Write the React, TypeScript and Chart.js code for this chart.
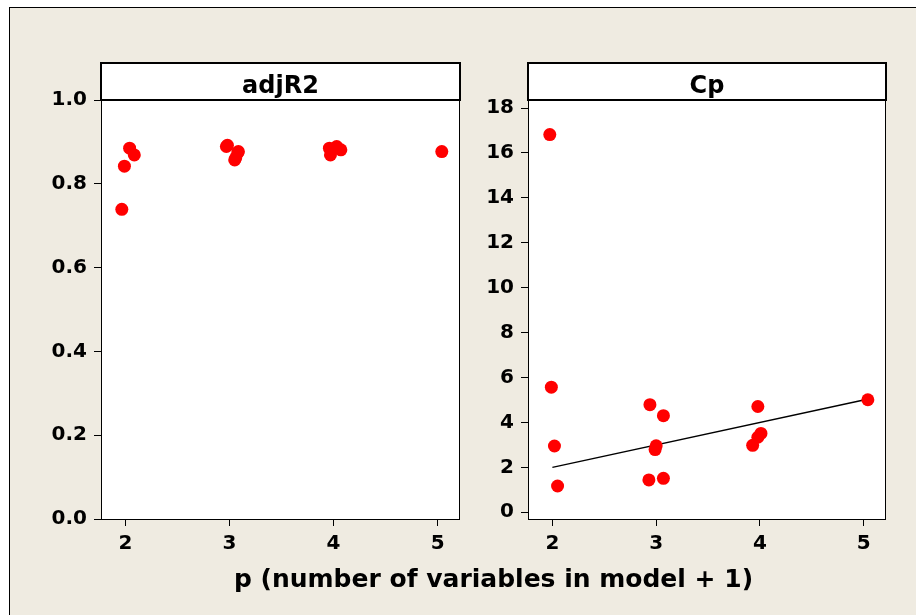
import React, { useEffect, useRef } from "react";
import { Chart, registerables } from "chart.js";

Chart.register(...registerables);

// ---- data ----
const xTicks = [2, 3, 4, 5];
const adjR2Ticks = [0, 0.2, 0.4, 0.6, 0.8, 1.0];
const cpTicks = [0, 2, 4, 6, 8, 10, 12, 14, 16, 18];

const adjR2X = [1.965, 1.99, 2.04, 2.085, 2.98, 2.97, 3.085, 3.05, 3.06, 3.08, 3.96, 3.97, 4.03, 4.07, 5.04];
const adjR2Y = [0.739, 0.842, 0.885, 0.869, 0.892, 0.889, 0.877, 0.857, 0.862, 0.875, 0.885, 0.869, 0.889, 0.881, 0.877];

const cpX = [1.975, 1.99, 2.02, 2.05, 2.94, 3.07, 3.0, 2.99, 2.93, 3.07, 3.98, 4.01, 3.98, 3.93, 5.04];
const cpY = [16.82, 5.57, 2.95, 1.17, 4.79, 4.3, 2.96, 2.79, 1.44, 1.51, 4.71, 3.51, 3.34, 2.98, 5.01];

const refLineX = [2, 5];
const refLineY = [2, 5];

const panelTitles = ["adjR2", "Cp"];
const xAxisTitle = "p (number of variables in model + 1)";

const FONT = "'DejaVu Sans', Verdana, sans-serif";

function panelPlugin(title: string) {
  return {
    id: "panelBox",
    beforeDraw(chart: any) {
      const { ctx, chartArea } = chart;
      const { left, top, right, bottom } = chartArea;
      ctx.save();
      ctx.fillStyle = "#ffffff";
      ctx.fillRect(left, top, right - left, bottom - top);
      ctx.fillRect(left, 62, right - left, top - 62);
      ctx.restore();
    },
    afterDraw(chart: any) {
      const { ctx, chartArea } = chart;
      const { left, top, right, bottom } = chartArea;
      ctx.save();
      ctx.strokeStyle = "#000000";
      ctx.lineWidth = 1;
      ctx.strokeRect(left + 0.5, top + 0.5, right - left - 1, bottom - top);
      ctx.lineWidth = 2;
      ctx.strokeRect(left, 63, right - left, top - 63);
      ctx.fillStyle = "#000000";
      ctx.font = `bold 24px ${FONT}`;
      ctx.textAlign = "center";
      ctx.textBaseline = "alphabetic";
      ctx.fillText(title, (left + right) / 2, 93);
      ctx.restore();
    },
  };
}

function makeConfig(
  title: string,
  xs: number[],
  ys: number[],
  yTicks: number[],
  yMin: number,
  yMax: number,
  yWidth: number,
  rightPad: number,
  decimals: number,
  withLine: boolean
) {
  const tickFont = { family: FONT, weight: "bold" as const, size: 20 };
  const datasets: any[] = [
    {
      type: "scatter",
      data: xs.map((x, i) => ({ x, y: ys[i] })),
      backgroundColor: "#ff0000",
      borderWidth: 0,
      pointRadius: 6.5,
      pointHoverRadius: 6.5,
    },
  ];
  if (withLine) {
    datasets.push({
      type: "line",
      data: refLineX.map((x, i) => ({ x, y: refLineY[i] })),
      borderColor: "#000000",
      borderWidth: 1.3,
      pointRadius: 0,
      fill: false,
    });
  }
  return {
    type: "scatter" as const,
    data: { datasets },
    plugins: [panelPlugin(title)],
    options: {
      animation: false,
      responsive: false,
      events: [],
      layout: { padding: { top: 100, right: rightPad, left: 0, bottom: 0 } },
      plugins: { legend: { display: false }, tooltip: { enabled: false }, title: { display: false } },
      scales: {
        x: {
          type: "linear",
          min: 1.765,
          max: 5.215,
          afterBuildTicks: (s: any) => {
            s.ticks = xTicks.map((v) => ({ value: v }));
          },
          afterFit: (s: any) => {
            s.height = 51;
          },
          grid: { display: true, drawOnChartArea: false, drawTicks: true, tickLength: 7, color: "#000000", lineWidth: 1 },
          border: { display: false },
          ticks: { color: "#000000", font: tickFont, padding: 6, maxRotation: 0, callback: (v: any) => String(v) },
        },
        y: {
          type: "linear",
          min: yMin,
          max: yMax,
          afterBuildTicks: (s: any) => {
            s.ticks = yTicks.map((v) => ({ value: v }));
          },
          afterFit: (s: any) => {
            s.width = yWidth;
          },
          grid: { display: true, drawOnChartArea: false, drawTicks: true, tickLength: 7, color: "#000000", lineWidth: 1 },
          border: { display: false },
          ticks: { color: "#000000", font: tickFont, padding: 7, callback: (v: any) => Number(v).toFixed(decimals) },
        },
      },
    },
  };
}

export default function App() {
  const c1 = useRef<HTMLCanvasElement>(null);
  const c2 = useRef<HTMLCanvasElement>(null);

  useEffect(() => {
    const ch1 = new Chart(
      c1.current as HTMLCanvasElement,
      makeConfig(panelTitles[0], adjR2X, adjR2Y, adjR2Ticks, 0, 1.0, 101, 10, 1, false) as any
    );
    const ch2 = new Chart(
      c2.current as HTMLCanvasElement,
      makeConfig(panelTitles[1], cpX, cpY, cpTicks, -0.3, 18.36, 62, 30, 0, true) as any
    );
    return () => {
      ch1.destroy();
      ch2.destroy();
    };
  }, []);

  return (
    <div style={{ position: "absolute", left: 0, top: 0, width: 916, height: 615, background: "#ffffff", overflow: "hidden" }}>
      <div
        style={{
          position: "absolute",
          left: 9,
          top: 7,
          width: 940,
          height: 640,
          background: "#efebe1",
          border: "1px solid #000000",
        }}
      />
      <canvas ref={c1} width={470} height={570} style={{ position: "absolute", left: 0, top: 0, width: 470, height: 570 }} />
      <canvas ref={c2} width={450} height={570} style={{ position: "absolute", left: 466, top: 0, width: 450, height: 570 }} />
      <div
        style={{
          position: "absolute",
          left: 101,
          width: 785,
          top: 564,
          textAlign: "center",
          fontFamily: FONT,
          fontWeight: "bold",
          fontSize: 25,
          lineHeight: "30px",
          color: "#000000",
          whiteSpace: "nowrap",
        }}
      >
        {xAxisTitle}
      </div>
    </div>
  );
}
